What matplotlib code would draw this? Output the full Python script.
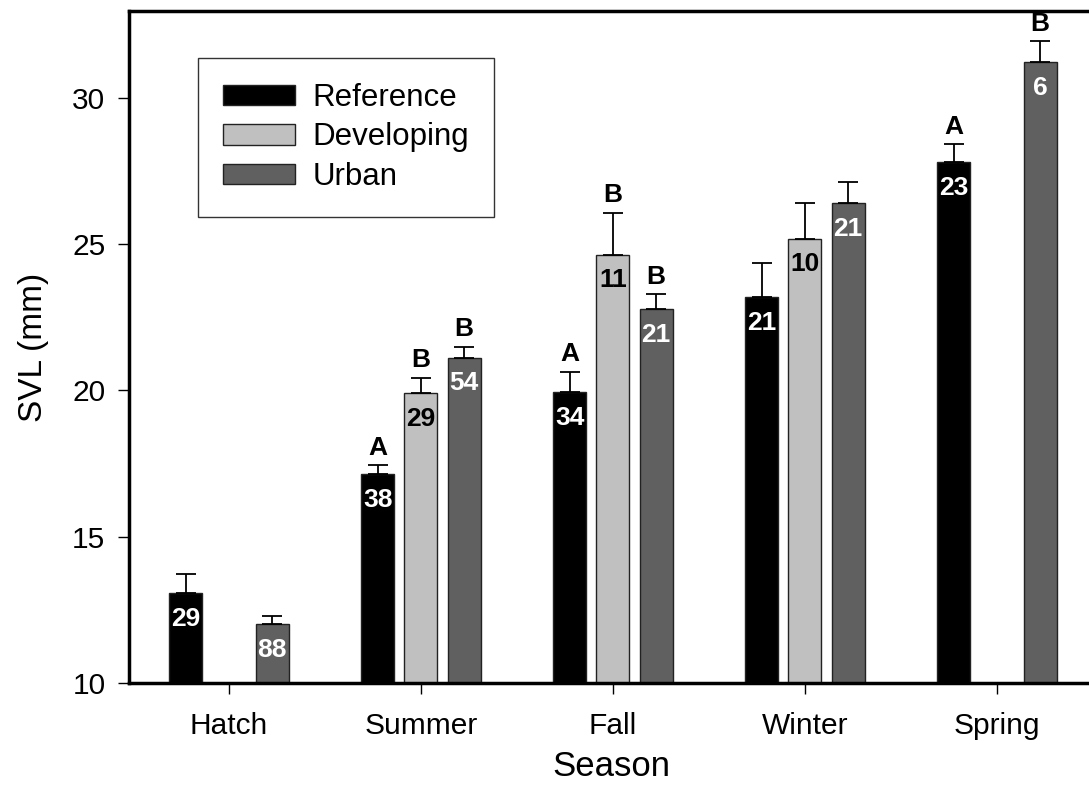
import numpy as np
import matplotlib.pyplot as plt

plt.rcParams['font.family'] = ['Liberation Sans', 'DejaVu Sans']

# SVL по сезонам и типам местообитаний (среднее, ошибка, объём выборки)
seasons = ['Hatch', 'Summer', 'Fall', 'Winter', 'Spring']
groups = ['Reference', 'Developing', 'Urban']

ref_mean = [13.07, 17.13, 19.93, 23.19, 27.81]
ref_err = [0.66, 0.32, 0.71, 1.17, 0.61]
ref_n = ['29', '38', '34', '21', '23']
ref_sig = ['', 'A', 'A', '', 'A']

dev_mean = [np.nan, 19.91, 24.64, 25.19, np.nan]
dev_err = [np.nan, 0.52, 1.44, 1.22, np.nan]
dev_n = ['', '29', '11', '10', '']
dev_sig = ['', 'B', 'B', '', '']

urb_mean = [12.0, 21.12, 22.78, 26.39, 31.23]
urb_err = [0.29, 0.38, 0.52, 0.74, 0.71]
urb_n = ['88', '54', '21', '21', '6']
urb_sig = ['', 'B', 'B', '', 'B']

series = [
    (ref_mean, ref_err, ref_n, ref_sig, 'black', 'white'),
    (dev_mean, dev_err, dev_n, dev_sig, '#c0c0c0', 'black'),
    (urb_mean, urb_err, urb_n, urb_sig, '#606060', 'white'),
]

fig = plt.figure(figsize=(10.89, 8.06), dpi=100)
ax = fig.add_axes([0.1185, 0.1526, 0.885, 0.8338])

x = np.arange(len(seasons))
width = 0.172
offsets = [-0.225, 0.0, 0.225]

for (mean, err, n, sig, color, txt_color), off, name in zip(series, offsets, groups):
    mean = np.array(mean, dtype=float)
    err = np.array(err, dtype=float)
    ok = ~np.isnan(mean)
    xs = x[ok] + off
    ax.bar(xs, mean[ok] - 10, width, bottom=10, color=color,
           edgecolor='#222222', linewidth=1, label=name, zorder=2)
    ax.errorbar(xs, mean[ok], yerr=[np.zeros(ok.sum()), err[ok]], fmt='none',
                ecolor='black', elinewidth=1.3, capsize=7.5, capthick=1.3, zorder=3)
    for xi, m, e, lab, s in zip(xs, mean[ok], err[ok],
                                np.array(n)[ok], np.array(sig)[ok]):
        ax.annotate(lab, (xi, m), xytext=(0, -18.5), textcoords='offset points',
                    ha='center', va='center', color=txt_color,
                    fontsize=19, fontweight='bold', zorder=4)
        if s:
            ax.annotate(s, (xi, m + e), xytext=(0, 12.5), textcoords='offset points',
                        ha='center', va='center', color='black',
                        fontsize=19, fontweight='bold', zorder=6)

ax.set_xlim(-0.52, 4.5)
ax.set_ylim(10, 32.97)
ax.set_xticks(x)
ax.set_xticklabels(seasons)
ax.set_yticks([10, 15, 20, 25, 30])
ax.tick_params(axis='both', direction='out', length=8, width=1,
               labelsize=21.5, pad=9)
ax.tick_params(axis='x', pad=13)

for side in ['left', 'top', 'bottom']:
    ax.spines[side].set_linewidth(2.5)
ax.spines['right'].set_visible(False)

ax.set_ylabel('SVL (mm)', fontsize=24, labelpad=17)
ax.set_xlabel('Season', fontsize=25, labelpad=7)

leg = ax.legend(loc='upper left', bbox_to_anchor=(0.072, 0.93), fontsize=22.5,
                frameon=True, fancybox=False, edgecolor='black',
                handlelength=2.3, handleheight=0.62, handletextpad=0.55,
                labelspacing=0.3, borderpad=0.8, borderaxespad=0)
leg.get_frame().set_linewidth(1)

fig.savefig('out.png', dpi=100)
